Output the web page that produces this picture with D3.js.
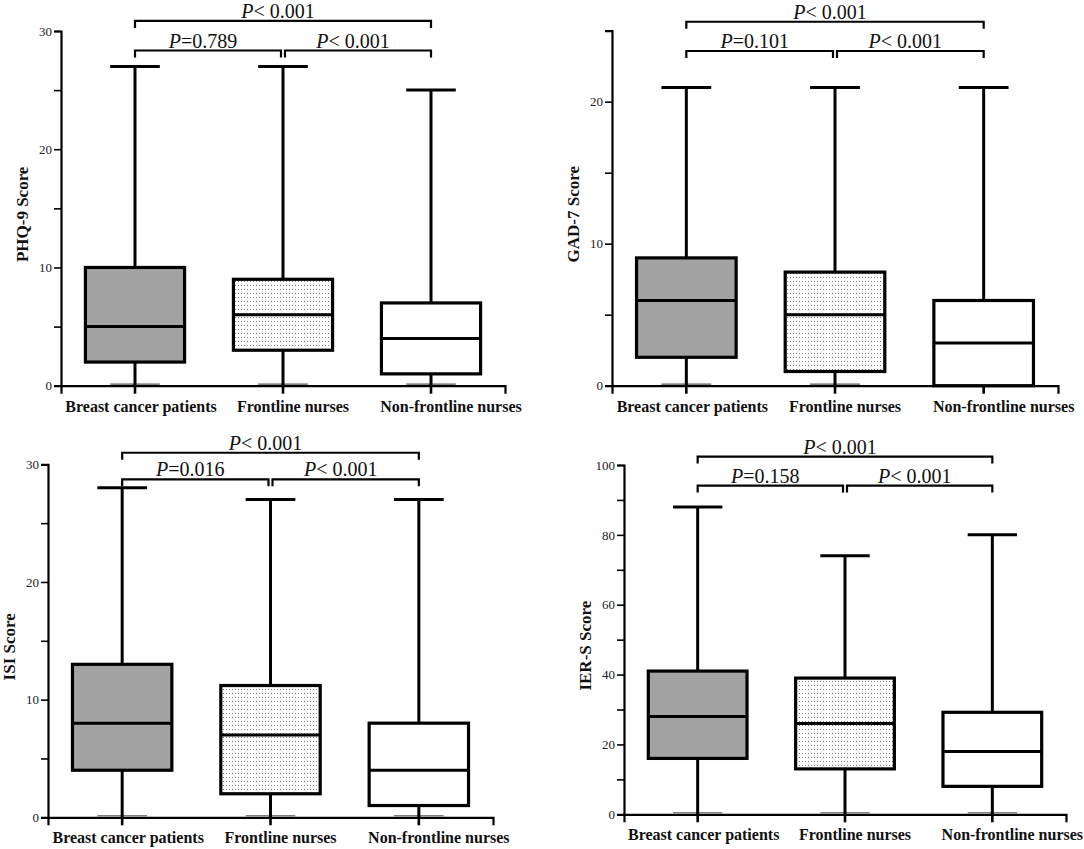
<!DOCTYPE html>
<html><head><meta charset="utf-8">
<script src="https://cdn.jsdelivr.net/npm/d3@7"></script>
<style>
html,body{margin:0;padding:0;background:#fff;}
svg{display:block;}
</style></head>
<body>
<svg id="chart" width="1084" height="849"></svg>
<script>
// ---- data ----
const categories = ["Breast cancer patients", "Frontline nurses", "Non-frontline nurses"];
// each row: [min, Q1, median, Q3, max]
const phq9Values = [[0, 2, 5, 10, 27], [0, 3, 6, 9, 27], [0, 1, 4, 7, 25]];
const gad7Values = [[0, 2, 6, 9, 21], [0, 1, 5, 8, 21], [0, 0, 3, 6, 21]];
const isiValues  = [[0, 4, 8, 13, 28], [0, 2, 7, 11.2, 27], [0, 1, 4, 8, 27]];
const iersValues = [[0, 16, 28, 41, 88], [0, 13, 26, 39, 74], [0, 8, 18, 29.2, 80]];
// p-value text: [overall (1 vs 3), 1 vs 2, 2 vs 3]
const phq9P = ["< 0.001", "=0.789", "< 0.001"];
const gad7P = ["< 0.001", "=0.101", "< 0.001"];
const isiP  = ["< 0.001", "=0.016", "< 0.001"];
const iersP = ["< 0.001", "=0.158", "< 0.001"];
const yTitles = ["PHQ-9 Score", "GAD-7 Score", "ISI Score", "IER-S Score"];
const yMax = [30, 25, 30, 100];
const minorStep = [5, 5, 5, 10];
const labelStep = [10, 10, 10, 20];

// ---- layout ----
const panels = [
  {values: phq9Values, p: phq9P, x0: 61,  x1: 505,  yTop: 31,    yBot: 385.7, brTop: 30.85, brBot: 28.35},
  {values: gad7Values, p: gad7P, x0: 612, x1: 1058, yTop: 30.7,  yBot: 385.7, brTop: 25.63, brBot: 23.57},
  {values: isiValues,  p: isiP,  x0: 48,  x1: 493,  yTop: 464.3, yBot: 817.3, brTop: 30.98, brBot: 28.72},
  {values: iersValues, p: iersP, x0: 624, x1: 1066, yTop: 465,   yBot: 814.3, brTop: 102.4, brBot: 94.1}
];
const fills = ["#a3a3a3", "url(#dots)", "#ffffff"];
const labelShift = [6, 10, 20];

const svg = d3.select("#chart");
const defs = svg.append("defs");
const pat = defs.append("pattern").attr("id", "dots").attr("patternUnits", "userSpaceOnUse")
  .attr("width", 3).attr("height", 4);
pat.append("rect").attr("width", 3).attr("height", 4).attr("fill", "#fff");
pat.append("rect").attr("x", 1).attr("y", 1).attr("width", 1).attr("height", 1).attr("fill", "#7c7c7c");

const serif = "'Liberation Serif','Times New Roman',serif";

panels.forEach((pn, i) => {
  const g = svg.append("g");
  const x = d3.scaleBand().domain(categories).range([pn.x0, pn.x1]).paddingInner(0.33).paddingOuter(0.165);
  const y = d3.scaleLinear().domain([0, yMax[i]]).range([pn.yBot, pn.yTop]);
  const bw = x.bandwidth();
  const cx = c => x(c) + bw / 2;
  const rows = categories.map((c, k) => ({c, k, v: pn.values[k]}));

  // bottom caps (at minimum) - thin line just above the axis
  g.selectAll(".capLo").data(rows).join("line")
    .attr("x1", d => cx(d.c) - bw / 4).attr("x2", d => cx(d.c) + bw / 4)
    .attr("y1", d => y(d.v[0]) - 1.6).attr("y2", d => y(d.v[0]) - 1.6)
    .attr("stroke", "#555").attr("stroke-width", 1.1);

  // y axis
  const ticks = d3.range(0, yMax[i] + 0.001, minorStep[i]);
  const ya = d3.axisLeft(y).tickValues(ticks).tickSizeOuter(0).tickSize(7)
    .tickFormat(v => (v % labelStep[i] === 0 ? v : ""));
  const yg = g.append("g").attr("transform", `translate(${pn.x0},0)`).call(ya);
  yg.select(".domain").attr("stroke", "#000").attr("stroke-width", 2.2);
  yg.selectAll(".tick line").attr("stroke", "#000").attr("stroke-width", 1.6);
  yg.selectAll(".tick text").attr("font-family", serif).attr("font-size", 13).attr("fill", "#222").attr("x", -9);

  // x axis
  const xa = d3.axisBottom(x).tickSizeOuter(0).tickSize(8).tickFormat("");
  const xg = g.append("g").attr("transform", `translate(0,${pn.yBot})`).call(xa);
  xg.select(".domain").attr("stroke", "#000").attr("stroke-width", 2.2);
  xg.selectAll(".tick line").attr("stroke", "#000").attr("stroke-width", 2.6);

  // x labels
  g.selectAll(".xl").data(rows).join("text")
    .attr("x", d => cx(d.c) + labelShift[d.k]).attr("y", pn.yBot + 26)
    .attr("text-anchor", "middle").attr("font-family", serif).attr("font-weight", "bold")
    .attr("font-size", 16).attr("fill", "#111").text(d => d.c);

  // whiskers
  g.selectAll(".wh").data(rows).join("line")
    .attr("x1", d => cx(d.c)).attr("x2", d => cx(d.c))
    .attr("y1", d => y(d.v[0])).attr("y2", d => y(d.v[4]))
    .attr("stroke", "#000").attr("stroke-width", 3);
  g.selectAll(".capHi").data(rows).join("line")
    .attr("x1", d => cx(d.c) - bw / 4).attr("x2", d => cx(d.c) + bw / 4)
    .attr("y1", d => y(d.v[4])).attr("y2", d => y(d.v[4]))
    .attr("stroke", "#000").attr("stroke-width", 3);

  // boxes
  g.selectAll(".box").data(rows).join("rect")
    .attr("x", d => x(d.c)).attr("width", bw)
    .attr("y", d => y(d.v[3])).attr("height", d => y(d.v[1]) - y(d.v[3]))
    .attr("fill", d => fills[d.k]).attr("stroke", "#000").attr("stroke-width", 3.2);
  g.selectAll(".med").data(rows).join("line")
    .attr("x1", d => x(d.c)).attr("x2", d => x(d.c) + bw)
    .attr("y1", d => y(d.v[2])).attr("y2", d => y(d.v[2]))
    .attr("stroke", "#000").attr("stroke-width", 3);

  // y title
  const tyc = (pn.yTop + pn.yBot) / 2 + 6;
  g.append("text").attr("transform", `translate(${pn.x0 - 39},${tyc}) rotate(-90)`)
    .attr("text-anchor", "middle").attr("dy", "0.35em")
    .attr("font-family", serif).attr("font-weight", "bold").attr("font-size", 17)
    .attr("fill", "#111").text(yTitles[i]);

  // significance brackets
  const c1 = cx(categories[0]), c2 = cx(categories[1]), c3 = cx(categories[2]);
  const yt = y(pn.brTop), yb = y(pn.brBot), tk = 7;
  const brackets = [
    {xa: c1, xb: c3, yy: yt, t: pn.p[0]},
    {xa: c1, xb: c2 - 2, yy: yb, t: pn.p[1]},
    {xa: c2 + 2, xb: c3, yy: yb, t: pn.p[2]}
  ];
  g.selectAll(".br").data(brackets).join("path")
    .attr("d", d => `M${d.xa},${d.yy + tk}V${d.yy}H${d.xb}V${d.yy + tk}`)
    .attr("fill", "none").attr("stroke", "#000").attr("stroke-width", 2.2);
  const bt = g.selectAll(".bt").data(brackets).join("text")
    .attr("x", d => (d.xa + d.xb) / 2 - 5).attr("y", d => d.yy - 3)
    .attr("text-anchor", "middle").attr("font-family", serif).attr("font-size", 20).attr("fill", "#111");
  bt.append("tspan").attr("font-style", "italic").text("P");
  bt.append("tspan").text(d => d.t);
});
</script>
</body></html>
